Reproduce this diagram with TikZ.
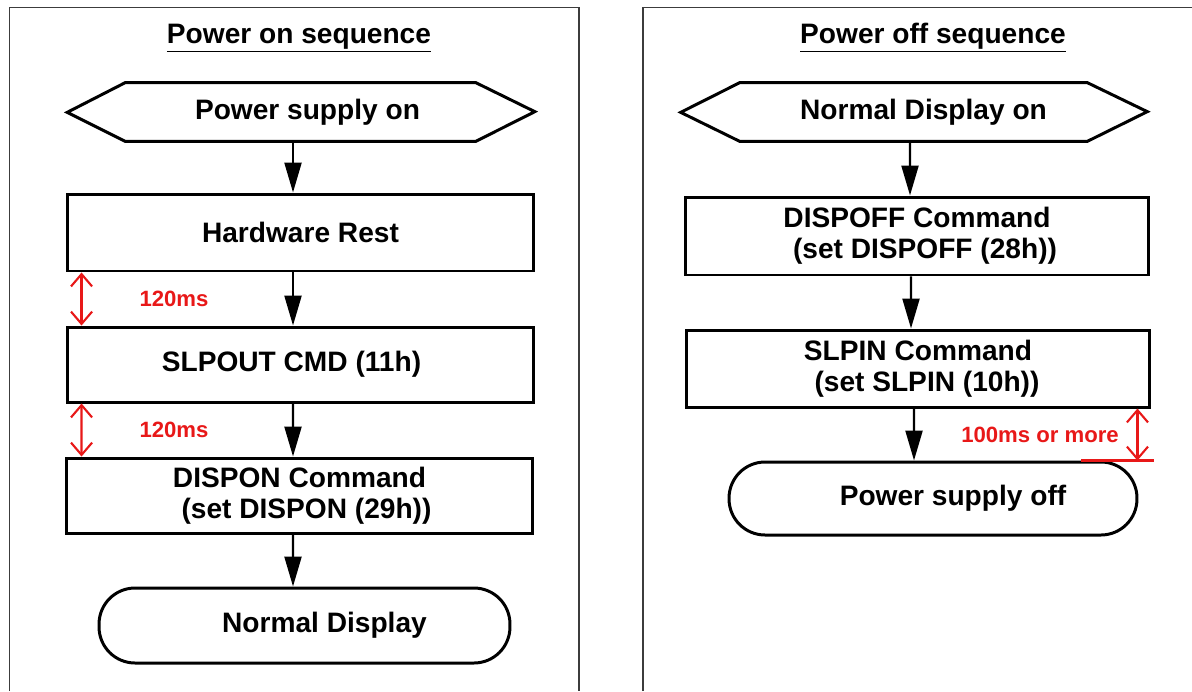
\documentclass[tikz,border=0pt]{standalone}
\usepackage{fontspec}
\setmainfont{Liberation Sans}
\usetikzlibrary{arrows.meta}

\definecolor{timered}{RGB}{232,24,24}
\definecolor{framegray}{RGB}{60,60,60}

\tikzset{
  boxfont/.style={font=\fontsize{16}{17.6}\selectfont\bfseries},
  stepbox/.style={draw, line width=1.7pt, boxfont, align=center, inner sep=0pt,
    minimum width=9.34cm, minimum height=1.5cm},
  hexbox/.style={boxfont, inner sep=0pt, minimum width=7cm, minimum height=1.16cm},
  endbox/.style={draw, line width=1.7pt, boxfont, inner sep=0pt, rounded corners=0.72cm,
    minimum width=8.22cm, minimum height=1.5cm},
  titletext/.style={boxfont, inner sep=0pt},
  flow/.style={line width=1.4pt, -{Triangle[length=17pt,width=9.6pt]}},
  dim/.style={timered, line width=1.2pt, {Straight Barb[length=7pt,width=12pt]}-{Straight Barb[length=7pt,width=12pt]}},
  dimlabel/.style={timered, font=\fontsize{12.6}{14}\selectfont\bfseries, inner sep=0pt},
  frame/.style={framegray, line width=0.85pt}
}

\begin{document}
\begin{tikzpicture}[x=0.02cm, y=-0.02cm]
\useasboundingbox (0,0) rectangle (1192,691);

% Frames of the two panels
\draw[frame] (9.5,691) -- (9.5,7.5) -- (579,7.5) -- (579,691);
\draw[frame] (643,691) -- (643,7.5) -- (1192,7.5);

% Power on sequence
\node[titletext, anchor=base] (ontitle) at (299,43) {\underline{Power on sequence}};
\node[hexbox] (pson) at (300.5,112) {\hspace*{0.28cm}Power supply on};
\draw[line width=1.7pt] (pson.north west) -- (pson.north east) -- ++(59,29)
  -- (pson.south east) -- (pson.south west) -- ++(-58,-29) -- cycle;
\node[stepbox, minimum height=1.54cm] (hwrst) at (300.5,232.5) {Hardware Rest};
\node[stepbox] (slpout) at (300.5,364.5) {SLPOUT CMD (11h)\hspace*{0.36cm}};
\node[stepbox] (dispon) at (299.5,495.5) {DISPON Command\\\hspace*{0.28cm}(set DISPON (29h))};
\node[endbox] (normdisp) at (304.5,625.5) {\hspace*{0.8cm}Normal Display};

\draw[flow] ([xshift=-0.15cm]pson.south) -- ([xshift=-0.15cm]hwrst.north);
\draw[flow] ([xshift=-0.15cm]hwrst.south) -- ([xshift=-0.15cm]slpout.north);
\draw[flow] ([xshift=-0.15cm]slpout.south) -- ([xshift=-0.13cm]dispon.north);
\draw[flow] ([xshift=-0.13cm]dispon.south) -- ([xshift=-0.23cm]normdisp.north);

% Waiting times
\draw[dim] ([xshift=0.32cm]hwrst.south west) -- ([xshift=0.32cm]slpout.north west);
\node[dimlabel] (waita) at (174,299) {120ms};
\draw[dim] ([xshift=0.32cm]slpout.south west) -- ([xshift=0.34cm]dispon.north west);
\node[dimlabel] (waitb) at (174,430) {120ms};

% Power off sequence
\node[titletext, anchor=base] (offtitle) at (933,43) {\underline{Power off sequence}};
\node[hexbox, minimum width=6.94cm] (dispin) at (913.5,112) {\hspace*{0.4cm}Normal Display on};
\draw[line width=1.7pt] (dispin.north west) -- (dispin.north east) -- ++(60,29)
  -- (dispin.south east) -- (dispin.south west) -- ++(-59,-29) -- cycle;
\node[stepbox, minimum width=9.28cm, minimum height=1.56cm] (dispoff) at (917,236)
  {DISPOFF Command\\\hspace*{0.32cm}(set DISPOFF (28h))};
\node[stepbox, minimum width=9.28cm, minimum height=1.54cm] (slpin) at (918,368.5)
  {SLPIN Command\\\hspace*{0.36cm}(set SLPIN (10h))};
\node[endbox, minimum width=8.16cm, minimum height=1.46cm] (psoff) at (933,498.5)
  {\hspace*{0.8cm}Power supply off};

\draw[flow] ([xshift=-0.07cm]dispin.south) -- ([xshift=-0.14cm]dispoff.north);
\draw[flow] ([xshift=-0.12cm]dispoff.south) -- ([xshift=-0.14cm]slpin.north);
\draw[flow] ([xshift=-0.08cm]slpin.south) -- ([xshift=-0.38cm]psoff.north);

% Waiting time before power off
\coordinate (offwait) at ([xshift=-0.28cm]slpin.south east);
\draw[dim] (offwait) -- (offwait |- psoff.north);
\draw[timered, line width=1.2pt] ([xshift=-1.14cm]psoff.north east) -- ([xshift=0.32cm]psoff.north east);
\node[dimlabel] (waitc) at (1040,435) {100ms or more};
\end{tikzpicture}
\end{document}
